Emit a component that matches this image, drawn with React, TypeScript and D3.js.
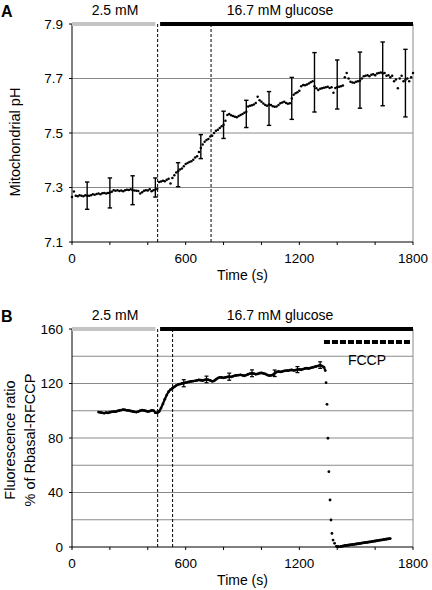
import React from "react";
import * as d3 from "d3";

// ---------- Panel A data: mitochondrial pH, one value every 10 s from 0 to 1800 s ----------
const phStart = 0;
const phStep = 10;
const phValues = [
  7.265, 7.285, 7.27, 7.268, 7.272, 7.27, 7.268, 7.272, 7.27, 7.27,
  7.272, 7.275, 7.273, 7.276, 7.278, 7.275, 7.279, 7.28, 7.278, 7.28,
  7.282, 7.284, 7.29, 7.288, 7.29, 7.287, 7.289, 7.286, 7.29, 7.292,
  7.291, 7.294, 7.29, 7.289, 7.288, 7.287, 7.278, 7.283, 7.288, 7.29,
  7.289, 7.294, 7.286, 7.29, 7.292, 7.295, 7.32, 7.322, 7.325, 7.323,
  7.328, 7.332, 7.315, 7.335, 7.345, 7.355, 7.36, 7.366, 7.37, 7.378,
  7.386, 7.39, 7.394, 7.396, 7.402, 7.41, 7.415, 7.43, 7.445, 7.458,
  7.468, 7.474, 7.478, 7.487, 7.49, 7.5, 7.508, 7.512, 7.518, 7.525,
  7.53, 7.545, 7.566, 7.57, 7.565, 7.562, 7.56, 7.558, 7.562, 7.566,
  7.57, 7.574, 7.578, 7.597, 7.6, 7.602, 7.605, 7.61, 7.633, 7.62,
  7.615, 7.608, 7.603, 7.6, 7.605, 7.603, 7.598, 7.596, 7.597, 7.603,
  7.609, 7.612, 7.615, 7.61, 7.607, 7.609, 7.627, 7.64, 7.646, 7.65,
  7.655, 7.672, 7.676, 7.675, 7.678, 7.682, 7.686, 7.69, 7.672, 7.664,
  7.658, 7.662, 7.664, 7.666, 7.668, 7.67, 7.665, 7.668, 7.648, 7.665,
  7.668, 7.67, 7.672, 7.674, 7.705, 7.72, 7.7, 7.688, 7.685, 7.684,
  7.688, 7.69, 7.692, 7.7, 7.708, 7.71, 7.712, 7.708, 7.714, 7.716,
  7.712, 7.718, 7.72, 7.722, 7.718, 7.72, 7.71, 7.712, 7.705, 7.71,
  7.69, 7.696, 7.664, 7.7, 7.71, 7.69, 7.695, 7.7, 7.69, 7.705,
  7.72,
];
const phErrTimes = [80, 200, 320, 440, 560, 680, 800, 920, 1040, 1160, 1280, 1400, 1520, 1640, 1760];
const phErrMean = [7.27, 7.28, 7.29, 7.30, 7.347, 7.45, 7.53, 7.57, 7.59, 7.627, 7.686, 7.678, 7.694, 7.717, 7.683];
const phErrSd = [0.05, 0.055, 0.053, 0.035, 0.044, 0.044, 0.05, 0.05, 0.062, 0.077, 0.109, 0.09, 0.103, 0.117, 0.124];
const phTicks = [7.1, 7.3, 7.5, 7.7, 7.9];
const phGrid = [7.3, 7.5, 7.7];
const phMarkers = [452, 734];

// ---------- Panel B data: fluorescence ratio ----------
const flStart = 140;
const flStep = 10;
const flValues = [
  99, 98.8, 98.5, 98.2, 98.6, 98.4, 98.9, 99.2, 99.4, 99.3,
  99.8, 100.2, 100.5, 100.8, 100.6, 100.3, 100.2, 99.8, 99.5, 99.2,
  99, 99.4, 100, 100.4, 100.2, 99.8, 99.4, 99.7, 100.3, 100.1,
  98.6, 98.4, 99.5, 102, 105, 108.5, 111.5, 114, 115.5, 116.5,
  117.5, 118.5, 119.2, 119.6, 120, 120.3, 120.6, 121, 121.3, 121.6,
  121.8, 122, 122.3, 122.6, 122.4, 122.2, 122.6, 123, 122.7, 122.2,
  121.6, 121.9, 123, 124, 124.5, 124.4, 124.2, 124.5, 124.8, 125,
  124.8, 125.3, 125.8, 126, 126.2, 126.4, 126, 125.7, 126.2, 126.8,
  127.2, 127.5, 127.2, 126.8, 127, 127.6, 127.8, 127.4, 127, 126.3,
  125.8, 125.9, 126.4, 127.5, 128.4, 128.8, 128.5, 128.8, 129.2, 129.5,
  129.4, 129.8, 130, 129.6, 129.8, 130.2, 130.4, 130.1, 130.6, 131,
  131.2, 131, 131.4, 131.8, 132.2, 132.6, 133, 133.5, 132.8, 132,
];
const dropTimes = [1337, 1341, 1346, 1351, 1356, 1362, 1367, 1372, 1378, 1386, 1395, 1405];
const dropValues = [129.5, 120.6, 104.7, 79.8, 55.3, 34.5, 19.8, 10, 5.1, 2.7, 0.5, 0.2];
const recStart = 1420;
const recStep = 10;
const recValues = [
  0.4, 0.7, 1.0, 1.2, 1.4, 1.6, 1.8, 2.0, 2.2, 2.4,
  2.6, 2.9, 3.1, 3.3, 3.5, 3.7, 3.9, 4.2, 4.4, 4.6,
  4.9, 5.1, 5.3, 5.6, 5.8, 6.0, 6.2,
];
const flErrTimes = [590, 710, 830, 950, 1070, 1190, 1310];
const flErrMean = [120.2, 123, 125, 127.5, 127.5, 130.2, 133.5];
const flErrSd = [2.6, 2.4, 2.6, 2.5, 2.4, 2.2, 2.4];
const flTicks = [0, 40, 80, 120, 160];
const flGrid = [20, 40, 60, 80, 100, 120, 140];
const flMarkers = [452, 531];

const timeTicks = [0, 600, 1200, 1800];
const timeMinor = [0, 200, 400, 600, 800, 1000, 1200, 1400, 1600, 1800];
const lowGlucose = [0, 440];
const highGlucose = [465, 1800];
const fccpSpan = [1330, 1790];

const FONT = "'Liberation Sans', Arial, Helvetica, sans-serif";
const W = 432;
const H = 590;

const x = d3.scaleLinear().domain([0, 1800]).range([72, 413]);
const yA = d3.scaleLinear().domain([7.1, 7.9]).range([242, 24]);
const yB = d3.scaleLinear().domain([0, 160]).range([547, 329]);

type Pt = { t: number; v: number };
const seriesA: Pt[] = phValues.map((v, i) => ({ t: phStart + i * phStep, v }));
const seriesB: Pt[] = [
  ...flValues.map((v, i) => ({ t: flStart + i * flStep, v })),
  ...dropValues.map((v, i) => ({ t: dropTimes[i], v })),
  ...recValues.map((v, i) => ({ t: recStart + i * recStep, v })),
];

function Frame({ y, yTicks, yFmt, grid, markers, label, top }: any) {
  const [y0, y1] = y.range();
  return (
    <g>
      {grid.map((g: number) => (
        <line key={"g" + g} x1={72} x2={413} y1={y(g)} y2={y(g)} stroke="#8a8a8a" strokeWidth={1} />
      ))}
      <line x1={413} x2={413} y1={y1} y2={y0} stroke="#8a8a8a" strokeWidth={1} />
      {markers.map((m: number) => (
        <line key={"m" + m} x1={x(m)} x2={x(m)} y1={y1} y2={y0} stroke="#000" strokeWidth={1} strokeDasharray="3,2" />
      ))}
      <line x1={72} x2={72} y1={y1} y2={y0 + 0.5} stroke="#000" strokeWidth={1} />
      <line x1={72} x2={413} y1={y0} y2={y0} stroke="#000" strokeWidth={1} />
      {yTicks.map((t: number) => (
        <g key={"yt" + t}>
          <line x1={69} x2={72} y1={y(t)} y2={y(t)} stroke="#000" />
          <text x={63} y={y(t) + 4.5} textAnchor="end" fontSize={13.5} fontFamily={FONT}>
            {yFmt(t)}
          </text>
        </g>
      ))}
      {timeMinor.map((t) => (
        <line key={"xm" + t} x1={x(t)} x2={x(t)} y1={y0} y2={y0 + 3} stroke="#000" />
      ))}
      {timeTicks.map((t) => (
        <text key={"xt" + t} x={x(t)} y={y0 + 21} textAnchor="middle" fontSize={13.5} fontFamily={FONT}>
          {t}
        </text>
      ))}
      <text x={242.5} y={y0 + 38} textAnchor="middle" fontSize={14} fontFamily={FONT}>
        Time (s)
      </text>
      {/* glucose bars */}
      <line x1={x(lowGlucose[0])} x2={x(lowGlucose[1])} y1={y1} y2={y1} stroke="#c4c4c4" strokeWidth={4} />
      <line x1={x(highGlucose[0])} x2={x(highGlucose[1])} y1={y1} y2={y1} stroke="#000" strokeWidth={4} />
      <text x={115} y={top} textAnchor="middle" fontSize={14} fontFamily={FONT}>2.5 mM</text>
      <text x={280} y={top} textAnchor="middle" fontSize={14} fontFamily={FONT}>16.7 mM glucose</text>
      <text x={1} y={top + 2} fontSize={16} fontWeight="bold" fontFamily={FONT}>{label}</text>
    </g>
  );
}

function ErrBars({ y, times, mean, sd, cap, sw }: any) {
  return (
    <g stroke="#000" strokeWidth={sw}>
      {times.map((t: number, i: number) => {
        const cx = x(t);
        const a = y(mean[i] + sd[i]);
        const b = y(mean[i] - sd[i]);
        return (
          <g key={"e" + t}>
            <line x1={cx} x2={cx} y1={a} y2={b} />
            <line x1={cx - cap} x2={cx + cap} y1={a} y2={a} />
            <line x1={cx - cap} x2={cx + cap} y1={b} y2={b} />
          </g>
        );
      })}
    </g>
  );
}

export default function App() {
  const lineB = d3
    .line<Pt>()
    .x((d) => x(d.t))
    .y((d) => yB(d.v));
  const plateau = seriesB.filter((d) => d.t <= 1337);
  const recovery = seriesB.filter((d) => d.t >= 1395);
  return (
    <svg width={W} height={H} style={{ position: "absolute", left: 0, top: 0, background: "#fff" }}>
      <rect width={W} height={H} fill="#fff" />
      {/* Panel A */}
      <Frame y={yA} yTicks={phTicks} yFmt={(t: number) => t.toFixed(1)} grid={phGrid} markers={phMarkers} label="A" top={15} />
      <text transform={`translate(20,${142}) rotate(-90)`} textAnchor="middle" fontSize={14.5} fontFamily={FONT}>
        Mitochondrial pH
      </text>
      <ErrBars y={yA} times={phErrTimes} mean={phErrMean} sd={phErrSd} cap={2.2} sw={1.4} />
      {seriesA.map((d) => (
        <circle key={"a" + d.t} cx={x(d.t)} cy={yA(d.v)} r={1.25} fill="#000" />
      ))}

      {/* Panel B */}
      <Frame y={yB} yTicks={flTicks} yFmt={(t: number) => String(t)} grid={flGrid} markers={flMarkers} label="B" top={320} />
      <text transform={`translate(15,${440}) rotate(-90)`} textAnchor="middle" fontSize={14.5} fontFamily={FONT}>
        Fluorescence ratio
      </text>
      <text transform={`translate(35,${440}) rotate(-90)`} textAnchor="middle" fontSize={14.5} fontFamily={FONT}>
        % of Rbasal-RFCCP
      </text>
      <line x1={x(fccpSpan[0])} x2={x(fccpSpan[1])} y1={342} y2={342} stroke="#000" strokeWidth={4} strokeDasharray="6,2" />
      <text x={367} y={365} textAnchor="middle" fontSize={14} fontFamily={FONT}>FCCP</text>
      <path d={lineB(plateau) || ""} fill="none" stroke="#000" strokeWidth={2.2} />
      <path d={lineB(recovery) || ""} fill="none" stroke="#000" strokeWidth={2.6} />
      <ErrBars y={yB} times={flErrTimes} mean={flErrMean} sd={flErrSd} cap={2} sw={1.2} />
      {seriesB.map((d, i) => (
        <circle key={"b" + i} cx={x(d.t)} cy={yB(d.v)} r={1.4} fill="#000" />
      ))}
    </svg>
  );
}
